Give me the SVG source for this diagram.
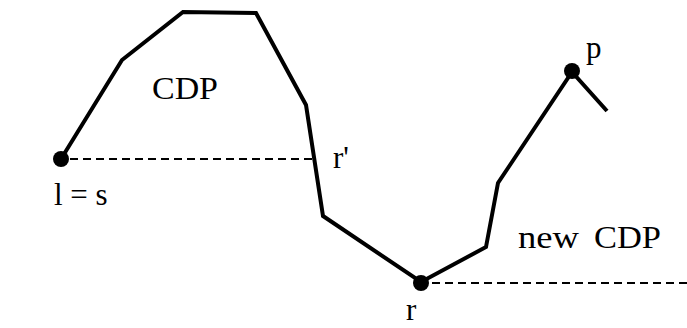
<svg xmlns="http://www.w3.org/2000/svg" width="687" height="328" viewBox="0 0 687 328">
<style>
.curve{fill:none;stroke:#000;stroke-width:4;stroke-linejoin:miter}
.dash{fill:none;stroke:#000;stroke-width:2;stroke-dasharray:8,5}
.dot{fill:#000}
text{font-family:"Liberation Serif","Times New Roman",serif;fill:#000}
.lbl{font-size:31px}
</style>
<rect width="687" height="328" fill="#fff"/>
<g id="connectors">
<path class="curve" d="M61,159 L122,60 L183,12 L256,13 L306,105 L323,216 L421,282 L486,247 L498,183 L572,72 L607,111"/>
<line class="dash" x1="70" y1="159" x2="312" y2="159"/>
<line class="dash" x1="432" y1="283" x2="687" y2="283"/>
</g>
<g id="node-s"><circle class="dot" cx="61" cy="159" r="8"/><text class="lbl" x="54" y="205">l = s</text></g>
<g id="node-rprime"><text class="lbl" x="333" y="168">r'</text></g>
<g id="node-r"><circle class="dot" cx="421" cy="283" r="8"/><text class="lbl" x="406" y="320">r</text></g>
<g id="node-p"><circle class="dot" cx="572" cy="71" r="8"/><text class="lbl" x="586" y="58">p</text></g>
<g id="label-cdp"><text class="lbl" x="152" y="99" textLength="66" lengthAdjust="spacingAndGlyphs">CDP</text></g>
<g id="label-newcdp"><text class="lbl" y="248"><tspan x="518" textLength="61" lengthAdjust="spacingAndGlyphs">new</tspan><tspan x="594" textLength="67" lengthAdjust="spacingAndGlyphs">CDP</tspan></text></g>
</svg>
